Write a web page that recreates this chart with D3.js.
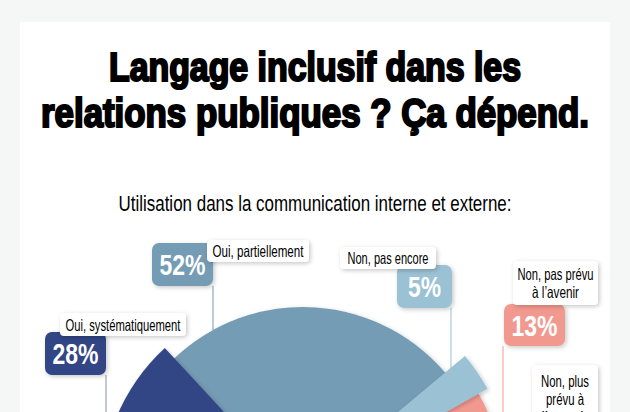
<!DOCTYPE html>
<html><head><meta charset="utf-8">
<script src="https://cdn.jsdelivr.net/npm/d3@7"></script>
<style>html,body{margin:0;padding:0;background:#f5f7f6;overflow:hidden}svg{display:block}</style>
</head><body><svg id="c" width="630" height="412"></svg>
<script>
const categories = ["Oui, systématiquement","Oui, partiellement","Non, pas encore","Non, pas prévu à l’avenir","Non, plus prévu à l’avenir"];
const values = [28,52,5,13,2];
const colors = ["#324584","#749cb5","#9bc1d5","#f2998f","#e9776c"];
const titleLines = ["Langage inclusif dans les","relations publiques ? Ça dépend."];
const subtitle = "Utilisation dans la communication interne et externe:";
const labelLines = [["Oui, systématiquement"],["Oui, partiellement"],["Non, pas encore"],["Non, pas prévu","à l’avenir"],["Non, plus","prévu à","l’avenir"]];

const cx=300, cy=494;
const radii = [199,187,215,205,195];
const sliceDx = [0,3,0,0,0];
const angleNudge = [[0,0],[-1.2,1],[-0.7,0.9],[0,0],[0,0]];
const badge = [{x:45,y:332,w:61,h:43},{x:152,y:243,w:61,h:43},{x:397,y:265,w:55,h:43},{x:504,y:304,w:61,h:42},{x:510,y:430,w:50,h:42}];
const tag = [{x:60,y:313,w:126,h:23,base:18,tw:[115]},{x:207,y:240,w:102,h:22,base:17,tw:[91]},{x:340,y:247,w:96,h:22,base:17,tw:[81]},{x:513,y:261,w:85,h:44,base:19,tw:[76,47]},{x:532,y:365,w:66,h:70,base:22,tw:[48,38,47]}];
const stem = [{x:106,y1:375,y2:420},{x:213,y1:286,y2:330},{x:451,y1:308,y2:372},{x:503,y1:346,y2:420},{x:509,y1:470,y2:480}];

const svg=d3.select("#c");
const defs=svg.append("defs");
const f=defs.append("filter").attr("id","sh").attr("x","-30%").attr("y","-30%").attr("width","160%").attr("height","160%");
f.append("feDropShadow").attr("dx",1.5).attr("dy",1.5).attr("stdDeviation",2).attr("flood-color","#000").attr("flood-opacity",.22);

svg.append("rect").attr("x",20).attr("y",22).attr("width",590).attr("height",400).attr("fill","#fff");

const FONT="'Liberation Sans Narrow','Liberation Sans',sans-serif";
const txt=(s,x,y,size,w,weight,fill)=>svg.append("text").text(s).attr("x",x).attr("y",y).attr("text-anchor","middle")
  .attr("font-family",FONT).attr("font-size",size).attr("font-weight",weight).attr("fill",fill)
  .attr("textLength",w).attr("lengthAdjust","spacingAndGlyphs");

const heavy=(s,x,y,w)=>txt(s,x,y,40,w,700,"#000").attr("font-family","'Liberation Sans',sans-serif").attr("stroke","#000").attr("stroke-width",2.2);
heavy(titleLines[0],315,81,412);
heavy(titleLines[1],315,127,548);
txt(subtitle,315,211,22,393,400,"#000");

// stems
svg.selectAll("line.s").data(stem).join("line").attr("x1",d=>d.x).attr("x2",d=>d.x).attr("y1",d=>d.y1).attr("y2",d=>d.y2)
  .attr("stroke",(d,i)=>colors[i]).attr("stroke-opacity",(d,i)=>i==0?.6:1).attr("stroke-width",1);

// half-circle gauge: 100% spans 180°
const rad=Math.PI/180;
const pie=d3.pie().sort(null).startAngle(-93.2*rad).endAngle(86.8*rad);
const arcs=pie(values).map((d,i)=>({...d,startAngle:d.startAngle+angleNudge[i][0]*rad,endAngle:d.endAngle+angleNudge[i][1]*rad}));
const arc=d3.arc().innerRadius(0).outerRadius(d=>radii[d.index]);
const g=svg.append("g").attr("transform",`translate(${cx},${cy})`);
[1,3,4,0,2].forEach(i=>{
  g.append("path").datum(arcs[i]).attr("d",arc).attr("transform",`translate(${sliceDx[i]},0)`).attr("fill",colors[i]).attr("filter","url(#sh)");
});

// value badges
values.forEach((v,i)=>{
  const b=badge[i];
  svg.append("rect").attr("x",b.x).attr("y",b.y).attr("width",b.w).attr("height",b.h).attr("rx",7).attr("fill",colors[i]).attr("filter","url(#sh)");
  txt(v+"%",b.x+b.w/2,b.y+b.h/2+10.5,29,v<10?33:46,700,"#fff");
});
// name tags
labelLines.forEach((ls,i)=>{
  const t=tag[i];
  svg.append("rect").attr("x",t.x).attr("y",t.y).attr("width",t.w).attr("height",t.h).attr("rx",4).attr("fill","#fff").attr("filter","url(#sh)");
  ls.forEach((l,j)=>{
    txt(l,t.x+t.w/2,t.y+t.base+j*18,16.5,t.tw[j],400,"#000");
  });
});
</script></body></html>
